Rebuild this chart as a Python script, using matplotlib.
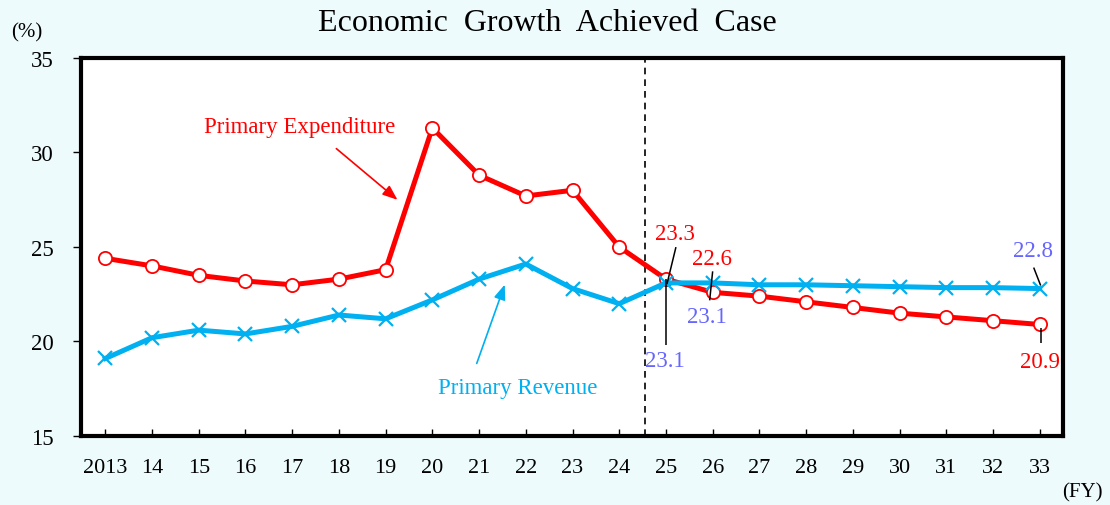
import matplotlib
matplotlib.use("Agg")
import matplotlib.pyplot as plt

# Fiscal years and the two series (% of GDP)
years = ["2013", "14", "15", "16", "17", "18", "19", "20", "21", "22", "23",
         "24", "25", "26", "27", "28", "29", "30", "31", "32", "33"]
expenditure = [24.4, 24.0, 23.5, 23.2, 23.0, 23.3, 23.8, 31.3, 28.8, 27.7, 28.0,
               25.0, 23.3, 22.6, 22.4, 22.1, 21.8, 21.5, 21.3, 21.1, 20.9]
revenue = [19.1, 20.2, 20.6, 20.4, 20.8, 21.4, 21.2, 22.2, 23.3, 24.1, 22.8,
           22.0, 23.1, 23.1, 23.0, 23.0, 22.95, 22.9, 22.85, 22.85, 22.8]
y_ticks = [15, 20, 25, 30, 35]

RED = "#FF0000"
CYAN = "#00B0F0"
LBL_BLUE = "#6666FF"
BG = "#EEFBFC"

plt.rcParams["font.family"] = ["Liberation Serif", "DejaVu Serif"]

fig = plt.figure(figsize=(11.10, 5.06), dpi=100, facecolor=BG)
ax = fig.add_axes([0.073, 0.1364, 0.8847, 0.747])
ax.set_facecolor("white")

x = list(range(len(years)))
ax.plot(x, expenditure, color=RED, lw=3.6, marker="o", ms=9.5,
        mfc="white", mec=RED, mew=1.3, zorder=3)
ax.plot(x, revenue, color=CYAN, lw=3.6, marker="x", ms=10,
        mec=CYAN, mew=1.6, zorder=4)

ax.set_xlim(-0.52, 20.5)
ax.set_ylim(15, 35)
ax.set_yticks(y_ticks)
ax.set_xticks(x)
ax.set_xticklabels(years)

for s in ax.spines.values():
    s.set_linewidth(3.0)
    s.set_color("black")

ax.tick_params(axis="y", direction="out", length=6, width=1, pad=14,
               labelsize=16.5)
ax.tick_params(axis="x", direction="in", length=5, width=1, pad=16,
               labelsize=16)

# Boundary between actual and projected years
ax.axvline(11.55, color="black", lw=1.2, ls=(0, (4, 3)), zorder=2)

fig.text(0.4935, 0.953, "Economic  Growth  Achieved  Case", ha="center",
         va="center", fontsize=23)
fig.text(0.024, 0.935, "(%)", ha="center", va="center", fontsize=15)
fig.text(0.975, 0.026, "(FY)", ha="center", va="center", fontsize=15)

# Series names with arrows
ax.text(4.16, 31.4, "Primary Expenditure", color=RED, fontsize=16.5,
        ha="center", va="center", zorder=5)
ax.annotate("", xy=(6.3, 27.4), xytext=(4.9, 30.3),
            arrowprops=dict(arrowstyle="-|>,head_length=0.9,head_width=0.35",
                            color=RED, lw=1.2))
ax.text(8.82, 17.54, "Primary Revenue", color=CYAN, fontsize=16.5,
        ha="center", va="center")
ax.annotate("", xy=(8.57, 23.15), xytext=(7.93, 18.7),
            arrowprops=dict(arrowstyle="-|>,head_length=0.9,head_width=0.35",
                            color=CYAN, lw=1.2))


def value_label(idx, series, color, text_off, line=None):
    val = series[idx]
    ax.annotate(f"{val:.1f}", xy=(idx, val), xytext=text_off,
                textcoords="offset pixels", color=color, fontsize=16.5,
                ha="center", va="center", zorder=6)
    if line is not None:
        (x0, y0), (x1, y1) = line
        start = ax.transData.transform((idx, val))
        inv = ax.transData.inverted()
        p0 = inv.transform((start[0] + x0, start[1] + y0))
        p1 = inv.transform((start[0] + x1, start[1] + y1))
        ax.plot([p0[0], p1[0]], [p0[1], p1[1]], color="black", lw=1.1,
                zorder=6, solid_capstyle="butt")


value_label(12, expenditure, RED, (9, 46), ((10, 32), (1, -5)))
value_label(12, revenue, LBL_BLUE, (-1, -78), ((0, 4), (0, -62)))
value_label(13, expenditure, RED, (-1, 34), ((0, 21), (-3, -8)))
value_label(13, revenue, LBL_BLUE, (-6, -34))
value_label(20, revenue, LBL_BLUE, (-7, 38), ((-6, 21), (1, 3)))
value_label(20, expenditure, RED, (0, -37), ((1, -4), (1, -19)))

fig.savefig("out.png", dpi=100, facecolor=BG)
